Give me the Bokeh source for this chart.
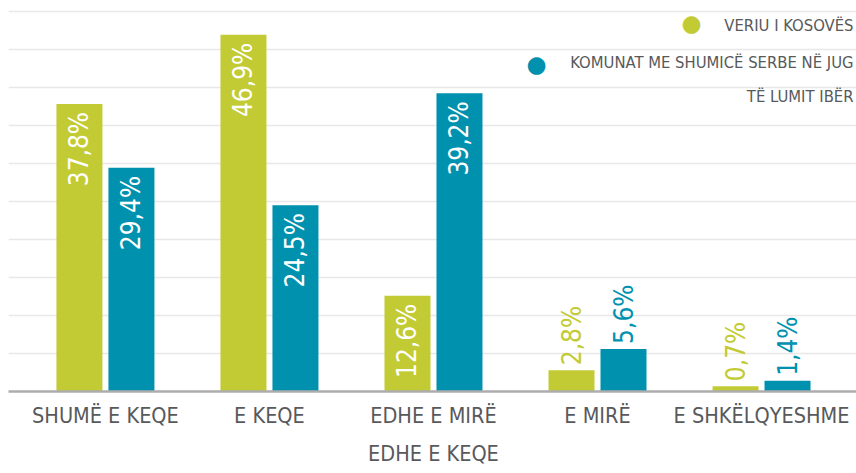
import numpy as np
from bokeh.plotting import figure
from bokeh.models import ColumnDataSource, FixedTicker, Label, Range1d
from bokeh.transform import dodge
from bokeh.embed import file_html
from bokeh.resources import INLINE
from bokeh.core.properties import value

# ---- data ----
categories = ["SHUMË E KEQE", "E KEQE", "EDHE E MIRË\nEDHE E KEQE", "E MIRË", "E SHKËLQYESHME"]
veriu = [37.8, 46.9, 12.6, 2.8, 0.7]
jug = [29.4, 24.5, 39.2, 5.6, 1.4]
series_names = ["VERIU I KOSOVËS", "KOMUNAT ME SHUMICË SERBE NË JUG\nTË LUMIT IBËR"]
grid_ticks = [5, 10, 15, 20, 25, 30, 35, 40, 45, 50]

# ---- styles ----
GREEN = "#C3CB34"
BLUE = "#0091AF"
GRAY = "#58595B"
FONT = "DejaVu Sans Condensed"
INSIDE_MIN = 10

series_vals = [veriu, jug]
colors = [GREEN, BLUE]
offsets = [-0.1585, 0.1585]
BAR_W = 0.2805

p = figure(width=856, height=473, output_backend="svg", toolbar_location=None,
           x_range=Range1d(-0.591, 4.579), y_range=Range1d(0, 51.4),
           min_border_left=8, min_border_right=0, min_border_top=0, min_border_bottom=82)
p.outline_line_color = None
p.background_fill_color = "white"
p.border_fill_color = "white"

idx = list(range(len(categories)))

for vals, col, off in zip(series_vals, colors, offsets):
    labels = [("%.1f" % v).replace(".", ",") + "%" for v in vals]
    src = ColumnDataSource(dict(x=idx, top=vals, lab=labels))
    p.vbar(x=dodge("x", off, range=p.x_range), top="top", width=BAR_W, bottom=0,
           source=src, fill_color=col, line_color=None)
    inside = [i for i, v in enumerate(vals) if v >= INSIDE_MIN]
    outside = [i for i, v in enumerate(vals) if v < INSIDE_MIN]
    s_in = ColumnDataSource(dict(x=[idx[i] for i in inside], y=[vals[i] for i in inside],
                                 lab=[labels[i] for i in inside]))
    s_out = ColumnDataSource(dict(x=[idx[i] for i in outside], y=[vals[i] for i in outside],
                                  lab=[labels[i] for i in outside]))
    p.text(x=dodge("x", off, range=p.x_range), y="y", text="lab", source=s_in,
           angle=np.pi / 2, text_align="right", text_baseline="middle",
           y_offset=8, text_color="white", text_font=value(FONT), text_font_size="26px")
    p.text(x=dodge("x", off, range=p.x_range), y="y", text="lab", source=s_out,
           angle=np.pi / 2, text_align="left", text_baseline="middle",
           y_offset=-5, text_color=col, text_font=value(FONT), text_font_size="26px")

# axes & grid
p.yaxis.visible = False
p.ygrid.ticker = FixedTicker(ticks=grid_ticks)
p.ygrid.grid_line_color = "#E8E8E8"
p.ygrid.grid_line_width = 1.5
p.xgrid.visible = False

p.xaxis.ticker = FixedTicker(ticks=idx)
p.xaxis.major_label_overrides = {i: c for i, c in enumerate(categories)}
p.xaxis.axis_line_color = "#ADADAD"
p.xaxis.axis_line_width = 2.5
p.xaxis.major_tick_line_color = None
p.xaxis.minor_tick_line_color = None
p.xaxis.major_label_standoff = 5
p.xaxis.major_label_text_font = FONT
p.xaxis.major_label_text_font_size = "21.5px"
p.xaxis.major_label_text_color = GRAY
p.xaxis.major_label_text_line_height = 1.55

# legend (manual, right-aligned); positions in screen px relative to the plot frame
leg_rows = [
    dict(dot_x=683, dot_y=369, lines=[(845, 366)], color=GREEN, name=series_names[0]),
    dict(dot_x=528, dot_y=328, lines=[(845, 329), (845, 295)], color=BLUE, name=series_names[1]),
]
for row in leg_rows:
    p.add_layout(Label(x=row["dot_x"], y=row["dot_y"], x_units="screen", y_units="screen",
                       text="●", text_color=row["color"], text_font="DejaVu Sans",
                       text_font_size="23px", text_align="center", text_baseline="middle"))
    for (lx, ly), t in zip(row["lines"], row["name"].split("\n")):
        p.add_layout(Label(x=lx, y=ly, x_units="screen", y_units="screen", text=t,
                           text_color=GRAY, text_font=FONT, text_font_size="16.5px",
                           text_align="right", text_baseline="middle"))

open("out.html", "w").write(file_html(p, INLINE))
